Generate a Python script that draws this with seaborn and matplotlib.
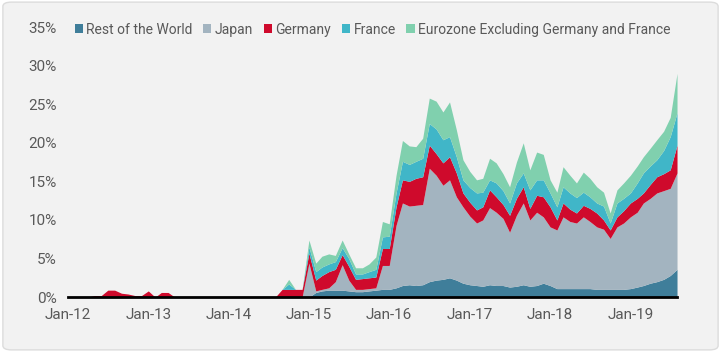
import pandas as pd
import matplotlib.pyplot as plt
import matplotlib.dates as mdates
from matplotlib.patches import FancyBboxPatch
from matplotlib.ticker import FuncFormatter
import seaborn as sns

# Monthly share (%) by holder, Jan 2012 - Aug 2019
rest_of_world = [0, 0, 0, 0, 0, 0, 0, 0, 0, 0, 0, 0,
                 0, 0, 0, 0, 0, 0, 0, 0, 0, 0, 0, 0,
                 0, 0, 0, 0, 0, 0, 0, 0, 0, 0, 0, 0,
                 0, 0.6, 0.8, 0.9, 0.9, 0.9, 0.8, 0.7, 0.7, 0.8, 0.9, 1.0,
                 1.0, 1.2, 1.5, 1.6, 1.5, 1.6, 2.0, 2.2, 2.3, 2.5, 2.2, 1.8,
                 1.6, 1.5, 1.4, 1.6, 1.5, 1.5, 1.3, 1.4, 1.6, 1.4, 1.5, 1.8,
                 1.5, 1.1, 1.1, 1.1, 1.1, 1.1, 1.1, 1.0, 1.0, 1.0, 1.0, 1.0,
                 1.1, 1.3, 1.5, 1.8, 2.0, 2.3, 2.8, 3.6]
japan = [0, 0, 0, 0, 0, 0, 0, 0, 0, 0, 0, 0,
         0, 0, 0, 0, 0, 0, 0, 0, 0, 0, 0, 0,
         0, 0, 0, 0, 0, 0, 0, 0, 0, 0, 0, 0,
         4.4, 0.2, 0.2, 0.3, 1.1, 3.3, 1.4, 0.3, 0.3, 0.3, 0.3, 3.1,
         3.1, 8.1, 10.7, 10.2, 10.4, 10.4, 14.7, 13.6, 12.2, 12.7, 10.8, 9.9,
         8.9, 8.1, 8.6, 10.0, 9.5, 8.7, 7.1, 9.2, 10.6, 8.6, 9.5, 8.6,
         7.6, 7.6, 9.3, 8.7, 8.5, 9.3, 8.7, 8.1, 7.8, 6.6, 8.1, 8.6,
         9.3, 9.7, 10.7, 11.0, 11.5, 11.5, 11.3, 12.5]
germany = [0, 0, 0, 0, 0.2, 0.2, 0.9, 0.9, 0.5, 0.4, 0.2, 0.2,
           0.8, 0, 0.6, 0.6, 0, 0, 0, 0, 0, 0, 0, 0,
           0, 0, 0, 0, 0, 0, 0, 0, 1.0, 1.0, 1.0, 1.0,
           1.3, 1.4, 1.8, 2.1, 1.6, 1.3, 1.8, 1.3, 1.4, 1.4, 1.4, 2.2,
           2.2, 2.4, 3.0, 3.2, 3.5, 3.6, 3.0, 2.8, 2.9, 3.0, 3.1, 1.8,
           1.8, 1.7, 1.7, 2.3, 2.0, 1.8, 2.2, 2.2, 2.1, 1.5, 2.2, 2.6,
           2.6, 1.3, 1.8, 1.6, 1.3, 1.5, 1.7, 1.8, 1.2, 1.1, 1.3, 1.6,
           1.8, 1.8, 1.3, 1.8, 2.1, 2.2, 2.4, 3.6]
france = [0, 0, 0, 0, 0, 0, 0, 0, 0, 0, 0, 0,
          0, 0, 0, 0, 0, 0, 0, 0, 0, 0, 0, 0,
          0, 0, 0, 0, 0, 0, 0, 0, 0, 0.7, 0, 0,
          0.8, 1.1, 1.1, 1.0, 1.0, 0.9, 1.0, 0.7, 0.6, 0.8, 1.0, 1.5,
          1.6, 1.8, 2.4, 2.2, 2.2, 2.4, 2.8, 3.2, 3.0, 2.6, 2.1, 1.7,
          1.9, 2.2, 1.9, 1.3, 1.8, 1.8, 1.6, 2.0, 1.8, 2.4, 2.0, 2.2,
          1.8, 1.7, 2.1, 2.1, 2.0, 1.7, 1.5, 1.3, 1.8, 0.9, 1.8, 1.6,
          1.3, 2.0, 2.6, 2.4, 2.2, 3.0, 4.3, 4.2]
eurozone_ex = [0, 0, 0, 0, 0, 0, 0, 0, 0, 0, 0, 0,
               0, 0, 0, 0, 0, 0, 0, 0, 0, 0, 0, 0,
               0, 0, 0, 0, 0, 0, 0, 0, 0, 0.6, 0, 0,
               0.9, 1.1, 1.4, 1.3, 0.8, 1.0, 0.6, 0.8, 0.8, 1.0, 1.6, 2.0,
               1.6, 2.3, 2.7, 2.4, 1.9, 2.6, 3.3, 3.6, 3.6, 4.5, 3.5, 2.6,
               2.1, 1.7, 1.8, 2.8, 2.6, 2.2, 2.1, 2.7, 3.9, 2.6, 3.6, 3.3,
               1.7, 1.9, 2.6, 2.3, 1.9, 2.6, 2.4, 2.1, 1.8, 1.3, 1.7, 2.0,
               2.3, 2.2, 2.1, 2.3, 2.6, 2.5, 2.5, 5.1]

labels = ['Rest of the World', 'Japan', 'Germany', 'France',
          'Eurozone Excluding Germany and France']
colors = ['#3f7e9a', '#a3b4c0', '#cf0a2c', '#40b6c8', '#80d0ae']

dates = pd.date_range('2012-01-01', periods=len(japan), freq='MS')
df = pd.DataFrame({labels[0]: rest_of_world, labels[1]: japan,
                   labels[2]: germany, labels[3]: france,
                   labels[4]: eurozone_ex}, index=dates)

sns.set_theme(style='white')
plt.rcParams['font.family'] = ['Roboto', 'DejaVu Sans']
text_color = '#595959'

fig = plt.figure(figsize=(7.21, 3.52), dpi=100, facecolor='white')
bg = FancyBboxPatch((0.004, 0.006), 0.992, 0.988, boxstyle='round,pad=0,rounding_size=0.012',
                    transform=fig.transFigure, facecolor='#f2f2f2', edgecolor='#dcdcdc',
                    linewidth=1, zorder=-10)
fig.patches.append(bg)

ax = fig.add_axes([0.094, 0.156, 0.845, 0.767])
ax.set_facecolor('none')
ax.stackplot(df.index, [df[c] for c in labels], labels=labels, colors=colors,
             linewidth=0)

ax.set_xlim(df.index[0], df.index[-1])
ax.set_ylim(0, 35)
ax.set_yticks(range(0, 36, 5))
ax.yaxis.set_major_formatter(FuncFormatter(lambda v, p: f'{v:.0f}%'))
ax.xaxis.set_major_locator(mdates.YearLocator(month=1))
ax.xaxis.set_major_formatter(mdates.DateFormatter('%b-%y'))
ax.tick_params(axis='both', length=0, labelsize=11, colors=text_color, pad=8)

for side in ['top', 'right', 'left']:
    ax.spines[side].set_visible(False)
ax.spines['bottom'].set_color('black')
ax.spines['bottom'].set_linewidth(2)

ax.legend(loc='center left', bbox_to_anchor=(0.002, 0.99), ncol=5, frameon=False,
          fontsize=10, labelcolor=text_color, handlelength=0.6, handleheight=0.6,
          handletextpad=0.25, columnspacing=0.75, borderaxespad=0)

plt.savefig('out.png', dpi=100, facecolor=fig.get_facecolor())
